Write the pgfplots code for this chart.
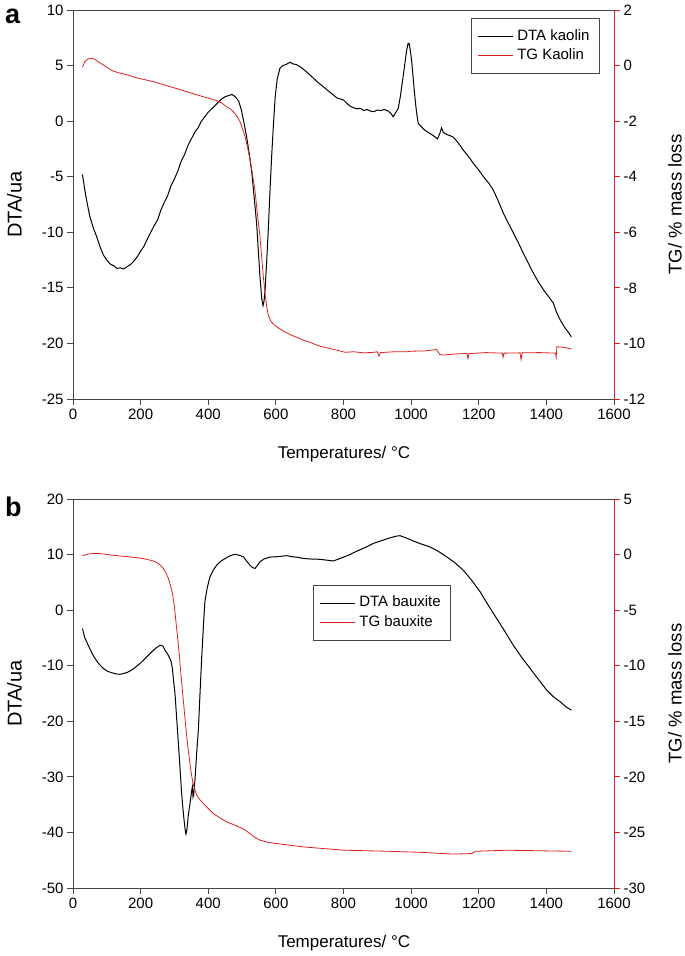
\documentclass[border=0pt]{standalone}
\usepackage{fontspec}
\setmainfont{Liberation Sans}
\usepackage{pgfplots}
\pgfplotsset{compat=1.18}
\definecolor{tgred}{RGB}{225,30,30}
\definecolor{axgray}{RGB}{70,70,70}
\pgfplotsset{
  base/.style={
    scale only axis, width=541pt, height=389pt,
    xmin=0, xmax=1600,
    tick align=outside,
    major tick length=6pt,
    /pgf/number format/assume math mode=true,
    /pgf/number format/1000 sep={},
    ticklabel style={font=\fontsize{15}{18}\selectfont},
    every tick/.style={line width=0.8pt},
  },
  leftax/.style={base,
    axis line style={axgray, line width=0.9pt},
    major tick style={axgray, line width=0.8pt},
    xtick={0,200,...,1600},
    xtick pos=bottom, ytick pos=left,
    xlabel={Temperatures/ °C}, ylabel={DTA/ua},
    xlabel style={font=\fontsize{17}{20}\selectfont, at={(axis description cs:0.5009,-0.1517)}, anchor=base},
    ylabel style={font=\fontsize{20}{24}\selectfont, at={(axis description cs:-0.0948,0.5)}, anchor=base, rotate=0},
  },
  rightax/.style={base,
    axis x line=none, axis y line*=right,
    axis line style={tgred, line width=0.9pt, -},
    major tick style={tgred, line width=0.8pt},
    ytick pos=right,
    ylabel={TG/ \% mass loss},
    ylabel style={font=\fontsize{18.5}{22}\selectfont, at={(axis description cs:1.125,0.5)}, anchor=base, rotate=0},
    legend cell align=left,
    legend image code/.code={\draw[#1] (0pt,0pt) -- (35pt,0pt);},
    legend style={draw=axgray, line width=0.8pt, fill=white,
      font=\fontsize{15}{18}\selectfont,
      inner xsep=6pt, inner ysep=8pt, row sep=0pt,
      nodes={inner xsep=4pt, inner ysep=2.5pt, text height=11pt, text depth=3.5pt}},
  },
}
\begin{document}
\begin{tikzpicture}
\useasboundingbox (0,0) rectangle (685pt,956pt);
% ---------------- panel a ----------------
\begin{axis}[leftax, at={(73pt,557pt)}, anchor=south west,
  ymin=-25, ymax=10, ytick={-25,-20,...,10}]
\addplot[black, line width=1pt] coordinates {
(28,-4.8)(35,-6.2)(42,-7.4)(50,-8.6)(60,-9.6)(70,-10.4)(80,-11.3)(90,-12.05)
(100,-12.5)(110,-12.85)(120,-13.0)(130,-13.25)(140,-13.2)(150,-13.3)(160,-13.1)
(170,-12.9)(180,-12.6)(190,-12.2)(200,-11.7)(210,-11.25)(220,-10.6)(230,-10.0)
(240,-9.4)(250,-8.9)(260,-8.0)(270,-7.3)(280,-6.7)(290,-5.8)(300,-5.2)(310,-4.5)
(320,-3.6)(330,-3.0)(340,-2.2)(350,-1.6)(360,-1.0)(370,-0.6)(380,0.0)(390,0.4)
(400,0.8)(410,1.1)(420,1.4)(430,1.7)(440,2.0)(450,2.2)(460,2.3)(470,2.4)(480,2.2)
(490,1.8)(498,1.0)(506,-0.2)(514,-1.5)(521,-2.9)(528,-4.4)(535,-6.6)(543,-9.2)
(548,-11.6)(553,-14.0)(558,-15.9)(562,-16.6)(565,-16.2)(568,-15.2)(573,-12.5)
(578,-9.5)(583,-6.0)(588,-2.9)(593,-0.2)(598,2.2)(604,3.8)(612,4.75)(620,5.0)
(630,5.1)(642,5.3)(650,5.15)(660,5.1)(671,4.9)(680,4.7)(690,4.45)(701,4.15)
(710,3.9)(720,3.6)(730,3.35)(740,3.1)(750,2.85)(760,2.6)(770,2.35)(780,2.1)
(790,2.0)(800,1.9)(810,1.6)(820,1.35)(830,1.2)(840,1.1)(850,1.15)(860,0.95)
(870,1.05)(880,0.9)(890,0.85)(900,1.0)(910,0.95)(920,1.05)(930,0.95)(940,0.7)
(947,0.4)(955,0.8)(962,1.15)(968,2.2)(975,3.7)(982,5.3)(987,6.4)(991,7.0)
(994,7.0)(998,6.3)(1002,5.3)(1006,3.9)(1011,2.2)(1016,0.8)(1021,-0.2)(1030,-0.5)
(1040,-0.8)(1050,-1.0)(1060,-1.2)(1070,-1.4)(1078,-1.6)(1085,-1.1)(1090,-0.6)
(1095,-1.0)(1105,-1.2)(1115,-1.3)(1125,-1.45)(1135,-1.8)(1145,-2.2)(1154,-2.6)
(1165,-3.0)(1175,-3.4)(1184,-3.8)(1200,-4.4)(1214,-5.0)(1230,-5.6)(1243,-6.2)
(1258,-7.2)(1273,-8.3)(1288,-9.2)(1303,-10.1)(1318,-11.0)(1332,-11.9)(1347,-12.8)
(1362,-13.7)(1377,-14.5)(1392,-15.2)(1407,-15.8)(1421,-16.4)(1430,-17.2)
(1441,-17.9)(1455,-18.6)(1465,-19.0)(1474,-19.4)
};
\end{axis}
\begin{axis}[rightax, at={(73pt,557pt)}, anchor=south west,
  ymin=-12, ymax=2, ytick={-12,-10,...,2},
  legend style={at={(axis description cs:0.974,0.979)}, anchor=north east}]
\addlegendimage{black, line width=1pt}
\addlegendentry{DTA kaolin\hspace{6pt}}
\addplot[tgred, line width=0.8pt] coordinates {
(28,-0.06)(35,0.14)(42,0.22)(50,0.26)(58,0.26)(65,0.22)(75,0.13)(90,0.02)
(105,-0.1)(119,-0.2)(135,-0.26)(149,-0.3)(170,-0.37)(188,-0.44)(210,-0.5)
(237,-0.58)(260,-0.66)(287,-0.76)(310,-0.84)(336,-0.94)(360,-1.03)(385,-1.12)
(405,-1.19)(425,-1.26)(440,-1.35)(454,-1.48)(465,-1.56)(474,-1.66)(485,-1.82)
(494,-2.02)(502,-2.3)(509,-2.56)(516,-2.92)(523,-3.34)(530,-3.85)(538,-4.48)
(545,-5.3)(553,-6.16)(558,-6.9)(563,-7.6)(568,-8.2)(573,-8.68)(578,-9.0)
(585,-9.2)(595,-9.33)(602,-9.4)(615,-9.5)(632,-9.62)(655,-9.75)(681,-9.88)
(705,-9.98)(730,-10.1)(755,-10.17)(780,-10.24)(805,-10.32)(830,-10.3)
(860,-10.34)(890,-10.32)(900,-10.3)(905,-10.45)(910,-10.33)(950,-10.3)
(987,-10.3)(1000,-10.28)(1040,-10.27)(1075,-10.22)(1085,-10.4)(1095,-10.42)
(1130,-10.38)(1165,-10.36)(1168,-10.55)(1171,-10.37)(1220,-10.33)(1270,-10.35)
(1272,-10.5)(1275,-10.35)(1322,-10.34)(1325,-10.58)(1328,-10.34)(1380,-10.33)
(1427,-10.35)(1429,-10.5)(1431,-10.12)(1450,-10.14)(1474,-10.2)
};
\addlegendentry{TG Kaolin\hspace{6pt}}
\end{axis}
% ---------------- panel b ----------------
\begin{axis}[leftax, at={(73pt,68pt)}, anchor=south west,
  ymin=-50, ymax=20, ytick={-50,-40,...,20}]
\addplot[black, line width=1pt] coordinates {
(28,-3.3)(35,-5.0)(45,-6.3)(55,-7.6)(65,-8.7)(77,-9.7)(90,-10.5)(102,-11.0)
(114,-11.25)(126,-11.45)(139,-11.55)(150,-11.4)(160,-11.2)(169,-10.95)(180,-10.5)
(190,-10.0)(198,-9.6)(210,-8.9)(220,-8.3)(228,-7.8)(238,-7.2)(247,-6.75)(255,-6.4)
(260,-6.3)(266,-6.5)(272,-7.2)(280,-7.9)(285,-8.5)(290,-9.2)(294,-10.5)(298,-13.0)
(302,-15.3)(307,-19.8)(312,-24.3)(316,-28.0)(321,-32.7)(325,-35.6)(329,-38.1)
(332,-39.6)(334,-40.3)(337,-39.5)(341,-36.9)(345,-35.2)(348,-33.9)(351,-32.5)
(353,-31.8)(355,-33.6)(357,-33.2)(361,-30.3)(366,-25.5)(371,-21.3)(376,-14.5)
(381,-8.1)(386,-2.5)(390,1.5)(397,4.0)(405,6.0)(415,7.2)(425,8.1)(437,8.8)
(450,9.3)(465,9.8)(479,10.05)(490,9.9)(504,9.6)(514,8.8)(523,8.1)(530,7.7)
(538,7.5)(545,8.0)(553,8.7)(565,9.2)(582,9.55)(600,9.6)(615,9.7)(632,9.8)
(650,9.6)(665,9.5)(681,9.3)(705,9.2)(730,9.15)(750,9.0)(770,8.85)(790,9.3)
(815,9.9)(839,10.6)(865,11.3)(888,12.0)(912,12.5)(937,13.0)(955,13.3)(967,13.4)
(985,13.0)(1006,12.45)(1030,11.9)(1055,11.4)(1080,10.6)(1105,9.6)(1130,8.5)
(1154,7.2)(1180,5.3)(1204,3.3)(1228,0.9)(1253,-1.5)(1278,-3.9)(1302,-6.3)
(1327,-8.5)(1352,-10.5)(1377,-12.5)(1401,-14.4)(1421,-15.6)(1441,-16.5)
(1458,-17.4)(1474,-18.0)
};
\end{axis}
\begin{axis}[rightax, at={(73pt,68pt)}, anchor=south west,
  ymin=-30, ymax=5, ytick={-30,-25,...,5},
  legend style={at={(axis description cs:0.699,0.779)}, anchor=north east}]
\addlegendimage{black, line width=1pt}
\addlegendentry{DTA bauxite\hspace{6pt}}
\addplot[tgred, line width=0.8pt] coordinates {
(28,-0.1)(45,0.05)(60,0.1)(75,0.1)(90,0.05)(115,-0.05)(139,-0.13)(165,-0.2)
(188,-0.28)(210,-0.38)(228,-0.5)(240,-0.6)(252,-0.8)(260,-1.0)(267,-1.25)
(275,-1.65)(282,-2.15)(289,-2.85)(295,-3.65)(300,-4.7)(304.5,-6.05)(309.5,-7.5)
(314.5,-9.05)(319,-10.7)(324,-12.35)(329,-14.0)(334,-15.65)(339,-17.1)(344,-18.35)
(349,-19.5)(354,-20.45)(360,-21.15)(366,-21.65)(375,-22.05)(385.5,-22.4)
(400,-22.85)(415,-23.3)(435,-23.7)(454.5,-24.05)(475,-24.3)(494,-24.55)
(510,-24.8)(523,-25.1)(538,-25.45)(553,-25.7)(575,-25.88)(602,-26.0)(640,-26.15)
(681,-26.3)(740,-26.45)(804,-26.6)(870,-26.65)(937,-26.7)(1036,-26.8)
(1125,-26.95)(1180,-26.9)(1190,-26.7)(1283,-26.6)(1380,-26.65)(1474,-26.7)
};
\addlegendentry{TG bauxite\hspace{6pt}}
\end{axis}
% panel letters
\node[anchor=base west, inner sep=0pt, font=\fontsize{27}{30}\selectfont\bfseries] at (5pt,932.7pt) {a};
\node[anchor=base west, inner sep=0pt, font=\fontsize{27}{30}\selectfont\bfseries] at (5pt,439.3pt) {b};
\end{tikzpicture}
\end{document}
